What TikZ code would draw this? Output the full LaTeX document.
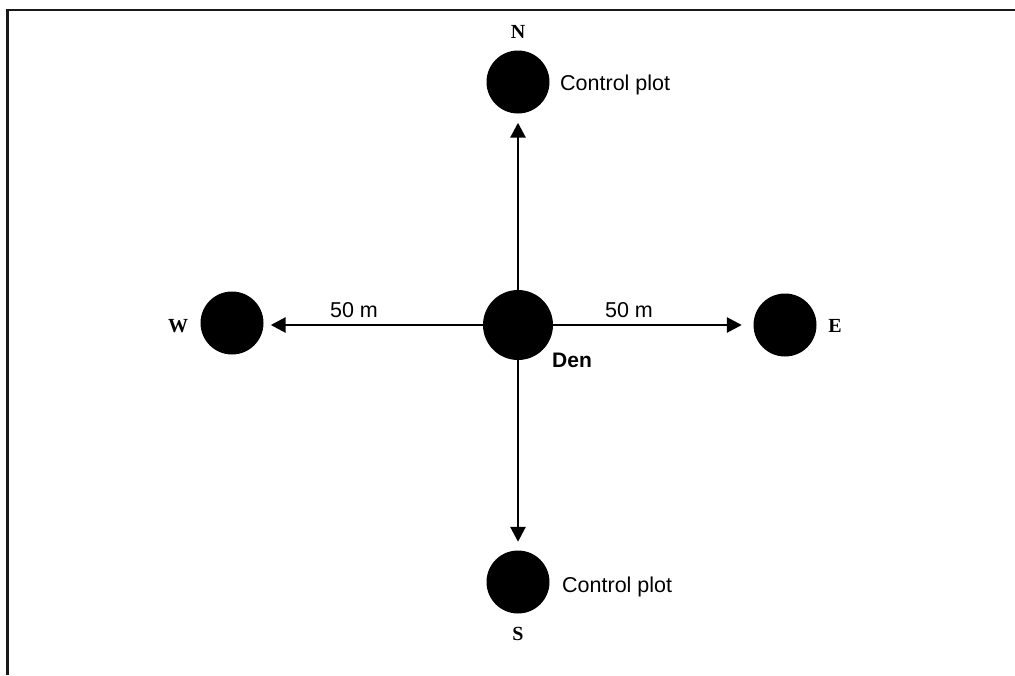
\documentclass[tikz,border=0pt]{standalone}
\usepackage{fontspec}
\setmainfont{Liberation Serif}
\setsansfont{Liberation Sans}
\usetikzlibrary{arrows.meta}
\begin{document}
\begin{tikzpicture}[x=1pt,y=-1pt,
  plot/.style={circle,fill=black,inner sep=0pt,minimum size=63pt},
  denplot/.style={circle,fill=black,inner sep=0pt,minimum size=70pt},
  dirlabel/.style={font=\rmfamily\bfseries\fontsize{20}{22}\selectfont,inner sep=0pt,anchor=base},
  note/.style={font=\sffamily\fontsize{21.5}{24}\selectfont,inner sep=0pt},
  bnote/.style={font=\sffamily\bfseries\fontsize{21}{24}\selectfont,inner sep=0pt},
  link/.style={line width=2.8pt,-{Triangle[length=15pt,width=15pt]}}]
\useasboundingbox (0,0) rectangle (1015,675);
% frame
\draw[line width=2.5pt,black!90] (7.5,675) -- (7.5,10) -- (1015,10);
% plots
\node[denplot] (den) at (518,325) {};
\node[plot] (n) at (518,82) {};
\node[plot] (s) at (518,582) {};
\node[plot] (w) at (232,323) {};
\node[plot] (e) at (785,325) {};
% arrows from the den to each plot
\draw[link,shorten >=9pt] (den) -- (n);
\draw[link,shorten >=8.5pt] (den) -- (s);
\draw[link,shorten >=7pt] (den.west) -- (den.west -| w.east);
\draw[link,shorten >=11.5pt] (den.east) -- (den.east -| e.west);
% direction letters
\node[dirlabel] (nl) at (518,38) {N};
\node[dirlabel] (sl) at (518,640) {S};
\node[dirlabel] (wl) at (178,332) {W};
\node[dirlabel] (el) at (835,332) {E};
% texts
\node[note,anchor=base west] (cn) at (560,90) {Control plot};
\node[note,anchor=base west] (cs) at (562,592) {Control plot};
\node[note,anchor=base] (dw) at (354,317) {50 m};
\node[note,anchor=base] (de) at (629,317) {50 m};
\node[bnote,anchor=base west] (dl) at (552,367) {Den};
\end{tikzpicture}
\end{document}
